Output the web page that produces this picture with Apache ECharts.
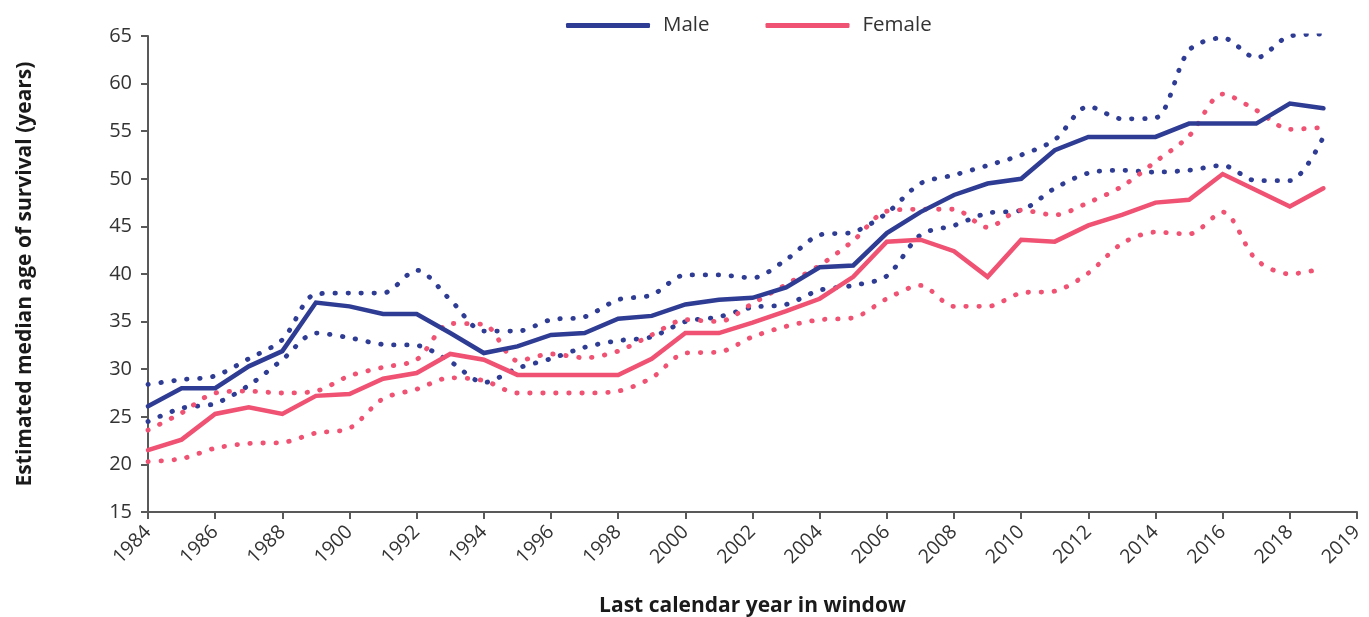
<!DOCTYPE html>
<html>
<head>
<meta charset="utf-8">
<script src="https://cdn.jsdelivr.net/npm/echarts@6/dist/echarts.min.js"></script>
<style>
html,body{margin:0;padding:0;background:#fff;}
#chart{width:1369px;height:617px;}
</style>
</head>
<body>
<div id="chart"></div>
<script>
// Axis slots (one per year); last slot is the axis end labelled "2019" in the original
const years = ['1984','1985','1986','1987','1988','1989','1990','1991','1992','1993','1994','1995','1996','1997','1998','1999','2000','2001','2002','2003','2004','2005','2006','2007','2008','2009','2010','2011','2012','2013','2014','2015','2016','2017','2018','2019','2020'];
const tickLabels = ['1984','','1986','','1988','','1900','','1992','','1994','','1996','','1998','','2000','','2002','','2004','','2006','','2008','','2010','','2012','','2014','','2016','','2018','','2019'];

const male = [26.1, 28.0, 28.0, 30.3, 31.9, 37.0, 36.6, 35.8, 35.8, 33.8, 31.7, 32.4, 33.6, 33.8, 35.3, 35.6, 36.8, 37.3, 37.5, 38.6, 40.7, 40.9, 44.3, 46.5, 48.3, 49.5, 50.0, 53.0, 54.4, 54.4, 54.4, 55.8, 55.8, 55.8, 57.9, 57.4];
const maleUpper = [28.4, 28.9, 29.3, 31.1, 33.1, 37.9, 38.0, 38.0, 40.4, 37.3, 34.0, 34.0, 35.2, 35.5, 37.3, 37.8, 39.9, 39.9, 39.6, 41.5, 44.1, 44.4, 46.4, 49.5, 50.4, 51.4, 52.5, 54.1, 57.6, 56.3, 56.4, 63.5, 64.8, 62.7, 65.0, 65.2];
const maleLower = [24.5, 25.9, 26.4, 28.3, 31.0, 33.8, 33.3, 32.6, 32.5, 30.8, 28.6, 30.1, 31.1, 32.3, 33.0, 33.4, 35.0, 35.5, 36.5, 36.8, 38.3, 38.8, 39.8, 44.1, 45.1, 46.4, 46.7, 49.0, 50.6, 50.9, 50.7, 50.9, 51.4, 49.8, 49.8, 54.4];
const female = [21.5, 22.6, 25.3, 26.0, 25.3, 27.2, 27.4, 29.0, 29.6, 31.6, 31.0, 29.4, 29.4, 29.4, 29.4, 31.1, 33.8, 33.8, 34.9, 36.1, 37.4, 39.7, 43.4, 43.6, 42.4, 39.7, 43.6, 43.4, 45.1, 46.2, 47.5, 47.8, 50.5, 48.8, 47.1, 49.0];
const femaleUpper = [23.6, 25.4, 27.5, 27.7, 27.5, 27.7, 29.3, 30.2, 31.0, 34.8, 34.7, 30.9, 31.6, 31.2, 31.9, 33.6, 35.2, 35.0, 36.9, 38.9, 40.9, 43.5, 46.6, 46.8, 46.8, 44.9, 46.7, 46.2, 47.5, 49.2, 51.8, 54.5, 58.9, 57.2, 55.2, 55.4];
const femaleLower = [20.3, 20.6, 21.7, 22.2, 22.3, 23.3, 23.8, 26.9, 27.9, 29.1, 28.8, 27.5, 27.5, 27.5, 27.7, 29.1, 31.7, 31.8, 33.4, 34.5, 35.2, 35.4, 37.4, 38.8, 36.6, 36.6, 38.0, 38.2, 40.1, 43.2, 44.4, 44.2, 46.5, 41.5, 40.0, 40.6];

const MALE_COLOR = '#2f3c94';
const FEMALE_COLOR = '#ef5272';
const FONT = 'Open Sans';

function dotted(name, data, color) {
  return {
    name: name, type: 'line', data: data, symbol: 'none', smooth: 0.3,
    lineStyle: { color: color, width: 4.8, type: [0.5, 12.5], cap: 'round' },
    itemStyle: { color: color }, z: 2, silent: true
  };
}
function solid(name, data, color) {
  return {
    name: name, type: 'line', data: data, symbol: 'none',
    lineStyle: { color: color, width: 4.5, cap: 'round', join: 'miter' },
    itemStyle: { color: color }, z: 3
  };
}

const chart = echarts.init(document.getElementById('chart'), null, { renderer: 'canvas' });
chart.setOption({
  animation: false,
  backgroundColor: '#ffffff',
  textStyle: { fontFamily: FONT },
  legend: {
    data: ['Male', 'Female'],
    top: 10, left: 561,
    icon: 'roundRect', itemWidth: 84, itemHeight: 5, itemGap: 56,
    textStyle: { fontFamily: FONT, fontSize: 20.5, color: '#333333', padding: [0, 0, 0, 8] }
  },
  grid: { left: 148, right: 12, top: 36, bottom: 105, containLabel: false, outerBoundsMode: 'none' },
  xAxis: {
    type: 'category', data: years, boundaryGap: false,
    name: 'Last calendar year in window', nameLocation: 'middle', nameGap: 84,
    nameTextStyle: { fontFamily: FONT, fontSize: 21, fontWeight: 'bold', color: '#1a1a1a' },
    axisLine: { lineStyle: { color: '#595959', width: 2 } },
    axisTick: { show: true, length: 7, lineStyle: { color: '#595959', width: 2 },
      interval: function (i) { return tickLabels[i] !== ''; } },
    axisLabel: { interval: function (i) { return tickLabels[i] !== ''; },
      formatter: function (v, i) { return tickLabels[i]; },
      rotate: 45, fontFamily: FONT, fontSize: 19.5, color: '#333333', margin: 17 },
    splitLine: { show: false }
  },
  yAxis: {
    type: 'value', min: 15, max: 65, interval: 5,
    name: 'Estimated median age of survival (years)', nameLocation: 'middle', nameGap: 112,
    nameRotate: 90,
    nameTextStyle: { fontFamily: FONT, fontSize: 21, fontWeight: 'bold', color: '#1a1a1a' },
    axisLine: { show: true, lineStyle: { color: '#595959', width: 2 } },
    axisTick: { show: true, length: 7, lineStyle: { color: '#595959', width: 2 } },
    axisLabel: { fontFamily: FONT, fontSize: 20, color: '#333333', margin: 16 },
    splitLine: { show: false }
  },
  series: [
    dotted('Male upper', maleUpper, MALE_COLOR),
    dotted('Male lower', maleLower, MALE_COLOR),
    dotted('Female upper', femaleUpper, FEMALE_COLOR),
    dotted('Female lower', femaleLower, FEMALE_COLOR),
    solid('Male', male, MALE_COLOR),
    solid('Female', female, FEMALE_COLOR)
  ]
});
</script>
</body>
</html>
